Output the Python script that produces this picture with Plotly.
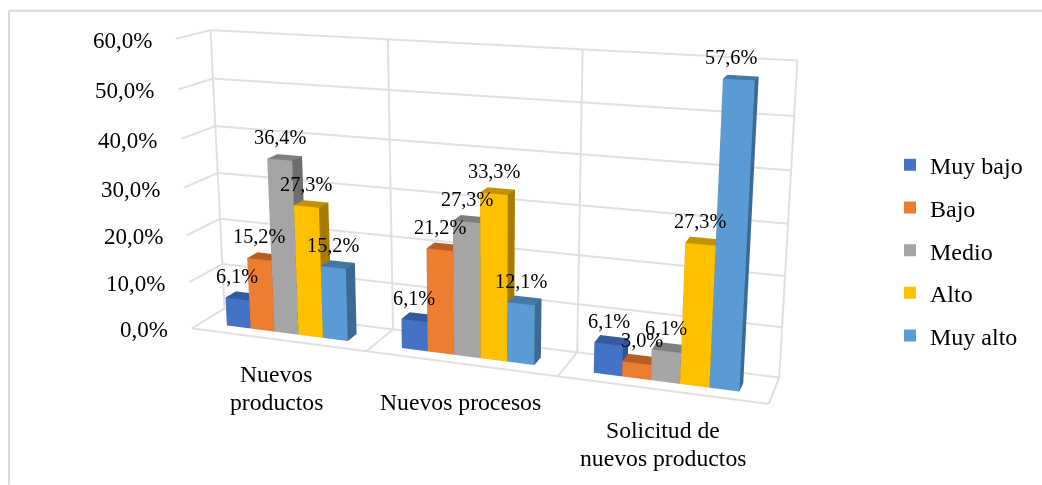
import plotly.graph_objects as go

categories = [["Nuevos", "productos"], ["Nuevos procesos"], ["Solicitud de", "nuevos productos"]]
series_names = ["Muy bajo", "Bajo", "Medio", "Alto", "Muy alto"]
muy_bajo = [6.1, 6.1, 6.1]
bajo = [15.2, 21.2, 3.0]
medio = [36.4, 27.3, 6.1]
alto = [27.3, 33.3, 27.3]
muy_alto = [15.2, 12.1, 57.6]
series_values = [muy_bajo, bajo, medio, alto, muy_alto]
z_ticks = [0, 10, 20, 30, 40, 50, 60]
z_tick_labels = ["0,0%", "10,0%", "20,0%", "30,0%", "40,0%", "50,0%", "60,0%"]

front_colors = ["#4472C4", "#ED7D31", "#A5A5A5", "#FFC000", "#5B9BD5"]
top_colors = ["#335A9E", "#B85E25", "#7F7F7F", "#C29200", "#4578A5"]
side_colors = ["#2F5597", "#A85420", "#6E6E6E", "#A67D00", "#3C6A94"]
SERIF = "Liberation Serif"

# Page and camera: Excel's narrow perspective needs a taller WebGL viewport than the window.
W = 1042
FIG_H = 1156.29
VIEW_W = 2 * 485.52
TOP_CROP = 376.8
GAP, BAR_W, Y0, Y1 = 0.15, 0.14, 0.30, 0.62

fig = go.Figure()

grid = []
for t in z_ticks:
    grid.append(((0, 0, t), (0, 1, t)))
    grid.append(((0, 1, t), (3, 1, t)))
for c in range(4):
    grid.append(((c, 1, 0), (c, 1, 60)))
    grid.append(((c, 0, 0), (c, 1, 0)))
grid.append(((0, 0, 0), (3, 0, 0)))
gx, gy, gz = [], [], []
for a, b in grid:
    gx += [a[0], b[0], None]
    gy += [a[1], b[1], None]
    gz += [a[2], b[2], None]
fig.add_trace(go.Scatter3d(x=gx, y=gy, z=gz, mode="lines", line=dict(color="#E0E0E0", width=4),
                           hoverinfo="skip", showlegend=False))

I = [0, 0, 4, 4, 1, 1, 0, 0, 3, 3, 0, 0]
J = [1, 5, 5, 6, 2, 6, 3, 7, 2, 6, 1, 2]
K = [5, 4, 6, 7, 6, 5, 7, 4, 6, 7, 2, 3]
for s, vals in enumerate(series_values):
    for c, v in enumerate(vals):
        x0 = c + GAP + s * BAR_W
        x1 = x0 + BAR_W
        fig.add_trace(go.Mesh3d(
            x=[x0, x1, x1, x0, x0, x1, x1, x0],
            y=[Y0, Y0, Y1, Y1, Y0, Y0, Y1, Y1],
            z=[0, 0, 0, 0, v, v, v, v],
            i=I, j=J, k=K,
            facecolor=[front_colors[s]] * 2 + [top_colors[s]] * 2 + [side_colors[s]] * 8,
            flatshading=True, showlegend=False, showscale=False, hoverinfo="skip",
            lighting=dict(ambient=1, diffuse=0, specular=0, fresnel=0, roughness=1)))

for s, name in enumerate(series_names):
    fig.add_trace(go.Scatter(x=[None], y=[None], mode="markers", name=name, legendgroup=name,
                             marker=dict(symbol="square", size=12, color=front_colors[s])))

ann = []
label_nudge = {(4, 2): -8, (1, 2): 5}
for s, vals in enumerate(series_values):
    for c, v in enumerate(vals):
        ann.append(dict(x=c + GAP + (s + .5) * BAR_W, y=Y0, z=v, text=f"{v:.1f}%".replace(".", ","),
                        showarrow=False, yshift=23, xshift=label_nudge.get((s, c), 0),
                        xanchor="center", yanchor="middle",
                        font=dict(family=SERIF, size=20.3, color="#000")))
for t, lab in zip(z_ticks, z_tick_labels):
    ann.append(dict(x=0, y=0, z=t, text=lab, showarrow=False, xanchor="right", yanchor="middle",
                    xshift=-22, yshift=-1.5, font=dict(family=SERIF, size=23, color="#000")))
cat_shift = [(-1, -48), (0.5, -39), (2, -54)]
LINE = 28
for c, (lines, sh) in enumerate(zip(categories, cat_shift)):
    for n, line in enumerate(lines):
        ann.append(dict(x=c + .5, y=0, z=0, text=line, showarrow=False, xanchor="center", yanchor="middle",
                        xshift=sh[0], yshift=sh[1] + ((len(lines) - 1) / 2 - n) * LINE,
                        font=dict(family=SERIF, size=23.7, color="#000")))

px = lambda x: x / W
py = lambda y: 1 - (y + TOP_CROP) / FIG_H
fig.update_layout(
    width=W, height=FIG_H, margin=dict(l=0, r=0, t=0, b=0),
    paper_bgcolor="#fff", plot_bgcolor="rgba(0,0,0,0)",
    xaxis=dict(visible=False), yaxis=dict(visible=False),
    legend=dict(x=px(890), y=py(143), xanchor="left", yanchor="top",
                font=dict(family=SERIF, size=24, color="#000"), tracegroupgap=8.5, bgcolor="rgba(0,0,0,0)"),
    scene=dict(domain=dict(x=[0, VIEW_W / W], y=[0, 1]), aspectmode="manual",
               aspectratio=dict(x=1.0350, y=0.1167, z=0.5256),
               camera=dict(eye=dict(x=0.7790, y=-2.1269, z=0.6028),
                           center=dict(x=-0.6898, y=2.0180, z=-0.5548),
                           up=dict(x=0, y=0, z=1)),
               xaxis=dict(range=[0, 3], visible=False), yaxis=dict(range=[0, 1], visible=False),
               zaxis=dict(range=[0, 60], visible=False), annotations=ann),
    shapes=[dict(type="line", xref="paper", yref="paper", x0=px(9), x1=px(9), y0=py(11), y1=py(485),
                 line=dict(color="#D9D9D9", width=2)),
            dict(type="line", xref="paper", yref="paper", x0=px(9), x1=px(1042), y0=py(11), y1=py(11),
                 line=dict(color="#D9D9D9", width=2))])
fig.write_html("out.html", config=dict(displayModeBar=False),
               post_script="document.documentElement.style.overflow='hidden';"
                           "document.body.style.overflow='hidden';document.body.style.margin='0';"
                           f"document.body.style.marginTop='{-TOP_CROP}px';")
